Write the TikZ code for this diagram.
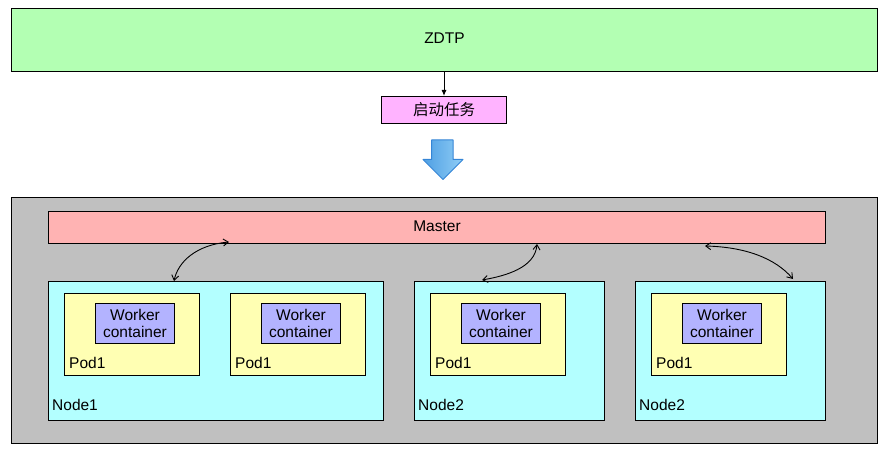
\documentclass[tikz,border=0pt]{standalone}
\usepackage{fontspec}
\setmainfont{Liberation Sans}
\newfontfamily\cjk{Noto Sans CJK SC}
\usetikzlibrary{arrows.meta,calc}
\definecolor{zgreen}{HTML}{B3FFB3}
\definecolor{zpink}{HTML}{FFB3FF}
\definecolor{zgray}{HTML}{C0C0C0}
\definecolor{zred}{HTML}{FFB3B3}
\definecolor{zcyan}{HTML}{B3FFFF}
\definecolor{zyellow}{HTML}{FFFFB3}
\definecolor{zviolet}{HTML}{B3B3FF}
\definecolor{zblueL}{HTML}{4F9FE3}
\definecolor{zblueR}{HTML}{8FCDF6}
\definecolor{zblueE}{HTML}{3585D6}
\begin{document}
\begin{tikzpicture}[x=1pt,y=-1pt,
  box/.style={draw=black,line width=1pt,inner sep=0pt,anchor=north west},
  txt/.style={font=\fontsize{15.5}{17.5}\selectfont,inner sep=0pt,align=center},
  lbl/.style={font=\fontsize{15.5}{17.5}\selectfont,inner sep=0pt,anchor=west},
  link/.style={line width=0.9pt,{Straight Barb[length=5pt,width=7pt]}-{Straight Barb[length=5pt,width=7pt]}},
  arr/.style={line width=1pt,-{Latex[length=6pt,width=5pt]}}]
\useasboundingbox (0,0) rectangle (890,457);
% top
\node[box,fill=zgreen,minimum width=866pt,minimum height=63pt] (zdtp) at (11,8) {};
\node[txt] at ([yshift=1.5pt]zdtp.center) {ZDTP};
\node[box,fill=zpink,minimum width=125pt,minimum height=27pt] (task) at (381,96) {};
\node[txt] at (task.center) {\cjk 启动任务};
\draw[arr] (zdtp.south -| task.north) -- (task.north);
% big arrow
\shade[left color=zblueL,right color=zblueR,draw=zblueE,line width=1pt,line join=round]
  (431.5,140) -- (453,140) -- (453,159.5) -- (463,159.5) -- (443,179.5) -- (423,159.5) -- (431.5,159.5) -- cycle;
% cluster
\node[box,fill=zgray,minimum width=866pt,minimum height=246pt] (cluster) at (11,197) {};
\node[box,fill=zred,minimum width=777pt,minimum height=32pt] (master) at (48,211) {};
\node[txt] at ([yshift=1.5pt]master.center) {Master};
% nodes
\node[box,fill=zcyan,minimum width=335pt,minimum height=139pt] (n1) at (48,281) {};
\node[box,fill=zcyan,minimum width=190pt,minimum height=139pt] (n2) at (414,281) {};
\node[box,fill=zcyan,minimum width=190pt,minimum height=139pt] (n3) at (635,281) {};
\node[lbl] at ($(n1.south west)+(4,-16)$) {Node1};
\node[lbl] at ($(n2.south west)+(4,-16)$) {Node2};
\node[lbl] at ($(n3.south west)+(4,-16)$) {Node2};
% pods
\foreach \i/\x in {1/64,2/230,3/430,4/651}{
  \node[box,fill=zyellow,minimum width=135pt,minimum height=82pt] (p\i) at (\x,293) {};
  \node[lbl] at ($(p\i.south west)+(5,-13)$) {Pod1};
  \node[box,fill=zviolet,minimum width=79pt,minimum height=40pt] (w\i) at (\x+31,303) {};
  \node[txt] at (w\i.center) {Worker\\container};
}
% links
\coordinate (m1) at ($(master.south west)+(181,-2)$);
\coordinate (k1) at ($(n1.north west)+(126,0)$);
\coordinate (m2) at ($(master.south west)+(489,0)$);
\coordinate (k2) at ($(n2.north west)+(68,-1)$);
\coordinate (m3) at ($(master.south west)+(657,2)$);
\coordinate (k3) at ($(n3.north west)+(158,-2)$);
\draw[link] (m1) .. controls (196,245) and (178,262) .. (k1);
\draw[link] (m2) .. controls (535,268) and (505,276) .. (k2);
\draw[link] (m3) .. controls (745,247) and (775,258) .. (k3);
\end{tikzpicture}
\end{document}
